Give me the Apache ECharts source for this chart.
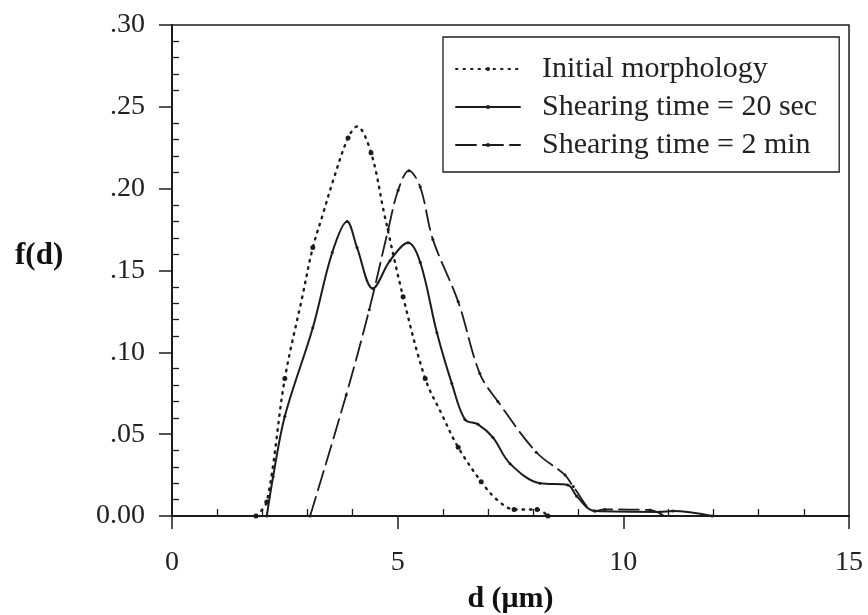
<!DOCTYPE html>
<html>
<head>
<meta charset="utf-8">
<script src="https://cdn.jsdelivr.net/npm/echarts@6/dist/echarts.min.js"></script>
<style>
html,body{margin:0;padding:0;background:#fff;}
#c{width:868px;height:615px;}
</style>
</head>
<body>
<div id="c"></div>
<script>
// ---- data ----
const seriesNames = ['Initial morphology', 'Shearing time = 20 sec', 'Shearing time = 2 min'];

const initX    = [1.86, 2.10, 2.50, 2.88, 3.12, 3.35, 3.57, 3.90, 4.10, 4.41, 4.70, 5.12, 5.61, 5.98, 6.34, 6.85, 7.20, 7.58, 8.09, 8.33];
const initY    = [0.000, 0.0086, 0.084, 0.133, 0.164, 0.185, 0.205, 0.231, 0.238, 0.222, 0.185, 0.134, 0.084, 0.062, 0.042, 0.021, 0.010, 0.004, 0.004, 0.000];
const initMark = [1, 1, 1, 0, 1, 0, 0, 1, 0, 1, 0, 1, 1, 0, 1, 1, 0, 1, 1, 1];

const s20X = [2.10, 2.24, 2.50, 3.12, 3.55, 3.88, 4.10, 4.45, 4.83, 5.23, 5.50, 5.87, 6.20, 6.49, 6.78, 7.11, 7.49, 8.15, 8.77, 8.97, 9.37, 10.81, 11.10, 11.97];
const s20Y = [0.000, 0.024, 0.061, 0.115, 0.161, 0.180, 0.164, 0.139, 0.156, 0.167, 0.155, 0.112, 0.081, 0.059, 0.056, 0.048, 0.032, 0.020, 0.019, 0.012, 0.003, 0.0025, 0.003, 0.000];

const s2mX = [3.06, 3.86, 4.37, 4.79, 5.01, 5.25, 5.50, 5.78, 6.34, 6.82, 7.22, 8.07, 8.71, 8.89, 9.37, 9.59, 10.59, 10.86];
const s2mY = [0.000, 0.074, 0.126, 0.175, 0.199, 0.211, 0.201, 0.169, 0.131, 0.087, 0.070, 0.039, 0.025, 0.018, 0.003, 0.004, 0.0037, 0.0006];

const xTickValues = [0, 5, 10, 15];
const xTickLabels = ['0', '5', '10', '15'];
const yTickValues = [0, 0.05, 0.10, 0.15, 0.20, 0.25, 0.30];
const yTickLabels = ['0.00', '.05', '.10', '.15', '.20', '.25', '.30'];

// ---- chart ----
const INK = '#1c1c1c';
const SERIF = '"Liberation Serif", "DejaVu Serif", serif';

function pairs(xs, ys) { return xs.map((x, i) => [x, ys[i]]); }
function labelFor(vals, labels, v) {
  for (let i = 0; i < vals.length; i++) if (Math.abs(vals[i] - v) < 1e-9) return labels[i];
  return '';
}

const chart = echarts.init(document.getElementById('c'), null, {renderer: 'canvas'});

const grid = {left: 172, top: 25, right: 19, bottom: 99, show: true, borderColor: INK, borderWidth: 1.5, backgroundColor: 'transparent', outerBoundsMode: 'none', containLabel: false};

const baseX = {
  type: 'value', min: 0, max: 15, interval: 5, position: 'bottom',
  axisLine: {show: true, onZero: false, lineStyle: {color: INK, width: 2}},
  axisTick: {show: true, inside: false, length: 13, lineStyle: {color: INK, width: 1.5}},
  splitLine: {show: false},
  axisLabel: {show: true, margin: 33, fontFamily: SERIF, fontSize: 28, color: '#222',
    formatter: v => labelFor(xTickValues, xTickLabels, v)},
  name: 'd (\u03bcm)', nameLocation: 'middle', nameGap: 68,
  nameTextStyle: {fontFamily: SERIF, fontSize: 30, fontWeight: 'bold', color: '#111'}
};
const minorX = {
  type: 'value', min: 0, max: 15, interval: 5, position: 'bottom',
  axisLine: {show: false, onZero: false}, axisLabel: {show: false}, splitLine: {show: false},
  axisTick: {show: false},
  minorTick: {show: true, splitNumber: 5, length: -7, lineStyle: {color: INK, width: 1.3}}
};
const baseY = {
  type: 'value', min: 0, max: 0.30, interval: 0.05, position: 'left',
  axisLine: {show: true, onZero: false, lineStyle: {color: INK, width: 2}},
  axisTick: {show: true, inside: false, length: 13, lineStyle: {color: INK, width: 1.5}},
  splitLine: {show: false},
  axisLabel: {show: true, margin: 27, fontFamily: SERIF, fontSize: 28, color: '#222',
    formatter: v => labelFor(yTickValues, yTickLabels, v)}
};
const minorY = {
  type: 'value', min: 0, max: 0.30, interval: 0.05, position: 'left',
  axisLine: {show: false, onZero: false}, axisLabel: {show: false}, splitLine: {show: false},
  axisTick: {show: false},
  minorTick: {show: true, splitNumber: 5, length: -7, lineStyle: {color: INK, width: 1.3}}
};

function lineSeries(name, xs, ys, marks, dash, width, markSize) {
  return {
    name: name, type: 'line', xAxisIndex: 0, yAxisIndex: 0,
    data: pairs(xs, ys),
    smooth: 0.35, smoothMonotone: null,
    symbol: 'circle', showSymbol: true, showAllSymbol: true,
    symbolSize: (v, p) => (marks ? (marks[p.dataIndex] ? markSize : 0) : markSize),
    itemStyle: {color: INK},
    lineStyle: {color: INK, width: width, type: dash, cap: 'round'},
    emphasis: {disabled: true}, animation: false, z: 3
  };
}

const option = {
  backgroundColor: '#fff',
  animation: false,
  grid: grid,
  xAxis: [baseX, minorX],
  yAxis: [baseY, minorY],
  legend: {
    show: true, orient: 'vertical', left: 443, top: 37,
    padding: [17, 22, 12, 12],
    itemGap: 8, itemWidth: 64, itemHeight: 5,
    borderColor: INK, borderWidth: 1.3, backgroundColor: '#fff',
    textStyle: {fontFamily: SERIF, fontSize: 30, color: '#222', padding: [0, 0, 0, 17], lineHeight: 30},
    data: seriesNames, selectedMode: false
  },
  series: [
    lineSeries(seriesNames[0], initX, initY, initMark, [1.5, 6], 2.4, 5),
    lineSeries(seriesNames[1], s20X, s20Y, null, 'solid', 2, 3),
    lineSeries(seriesNames[2], s2mX, s2mY, null, [20, 7], 1.8, 3)
  ],
  graphic: [{
    type: 'text', left: 15, top: 240,
    style: {text: 'f(d)', font: 'bold 31px ' + SERIF, fill: '#111'}
  }]
};
chart.setOption(option);
</script>
</body>
</html>
